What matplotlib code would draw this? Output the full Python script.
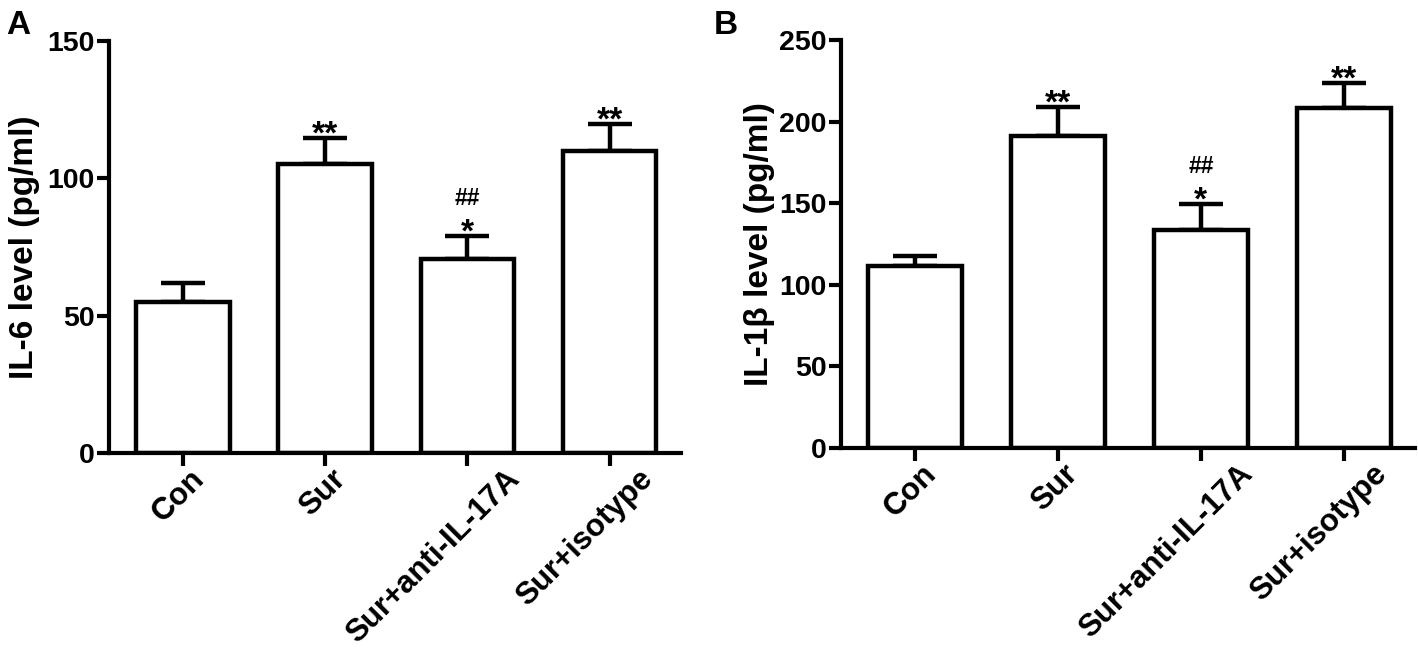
import matplotlib.pyplot as plt
from matplotlib.textpath import TextPath
from matplotlib.font_manager import FontProperties
import numpy as np

groups = ["Con", "Sur", "Sur+anti-IL-17A", "Sur+isotype"]

il6_mean = [55.1, 105.1, 70.6, 109.9]
il6_err = [6.6, 9.5, 8.5, 10.0]

il1b_mean = [111.2, 191.2, 133.7, 208.6]
il1b_err = [6.6, 18.0, 15.9, 15.3]

star_marks = ["", "**", "*", "**"]
hash_marks = ["", "", "##", ""]

plt.rcParams['font.family'] = ['Liberation Sans', 'DejaVu Sans']
plt.rcParams['font.weight'] = 'bold'

fig = plt.figure(figsize=(14.18, 6.48), dpi=100)
ax1 = fig.add_axes([0.077, 0.301, 0.403, 0.636])
ax2 = fig.add_axes([0.593, 0.309, 0.405, 0.629])

xfs = 22.5
xprop = FontProperties(family="Liberation Sans", weight="bold", size=xfs)


def draw(ax, means, errs, ymax, ylabel, labelpad):
    x = np.arange(len(groups))
    ax.bar(x, means, width=0.66, color="white", edgecolor="black", linewidth=3.2, zorder=2)
    ax.errorbar(x, means, yerr=[[0] * len(errs), errs], fmt="none", ecolor="black",
                elinewidth=3.2, capsize=16, capthick=3.2, zorder=1)
    for i, m in enumerate(means):
        top = m + errs[i]
        if star_marks[i]:
            ax.annotate(star_marks[i], xy=(i, top), xytext=(0, -4), textcoords="offset points",
                        ha="center", va="baseline", fontsize=24, fontweight="bold")
        if hash_marks[i]:
            ax.annotate(hash_marks[i], xy=(i, top), xytext=(0, 22), textcoords="offset points",
                        ha="center", va="baseline", fontsize=16.5, fontweight="bold")
        # rotated category label; longer labels sit a bit further right, as in the figure
        w = TextPath((0, 0), groups[i], prop=xprop).get_extents().width
        ax.annotate(groups[i], xy=(i, 0), xycoords=("data", "axes fraction"),
                    xytext=(-3 + 0.18 * w, -8), textcoords="offset points", rotation=45,
                    rotation_mode="anchor", ha="right", va="top",
                    fontsize=xfs, fontweight="bold", annotation_clip=False)
    ax.set_xlim(-0.52, 3.5)
    ax.set_ylim(0, ymax)
    ax.set_yticks(np.arange(0, ymax + 1, 50))
    ax.set_xticks(x)
    ax.set_xticklabels([])
    for lab in ax.get_yticklabels():
        lab.set_fontsize(20.5)
        lab.set_fontweight("bold")
    ax.set_ylabel(ylabel, fontsize=24, fontweight="bold", labelpad=labelpad)
    ax.spines["top"].set_visible(False)
    ax.spines["right"].set_visible(False)
    ax.spines["left"].set_linewidth(3)
    ax.spines["bottom"].set_linewidth(3)
    ax.tick_params(axis="both", direction="out", length=9, width=3)
    ax.tick_params(axis="y", pad=1.5)


draw(ax1, il6_mean, il6_err, 150, "IL-6 level (pg/ml)", 5)
draw(ax2, il1b_mean, il1b_err, 250, "IL-1β level (pg/ml)", 3)

fig.text(0.004, 0.985, "A", fontsize=24, fontweight="bold", va="top")
fig.text(0.503, 0.985, "B", fontsize=24, fontweight="bold", va="top")

plt.savefig("out.png", dpi=100)
plt.close()
